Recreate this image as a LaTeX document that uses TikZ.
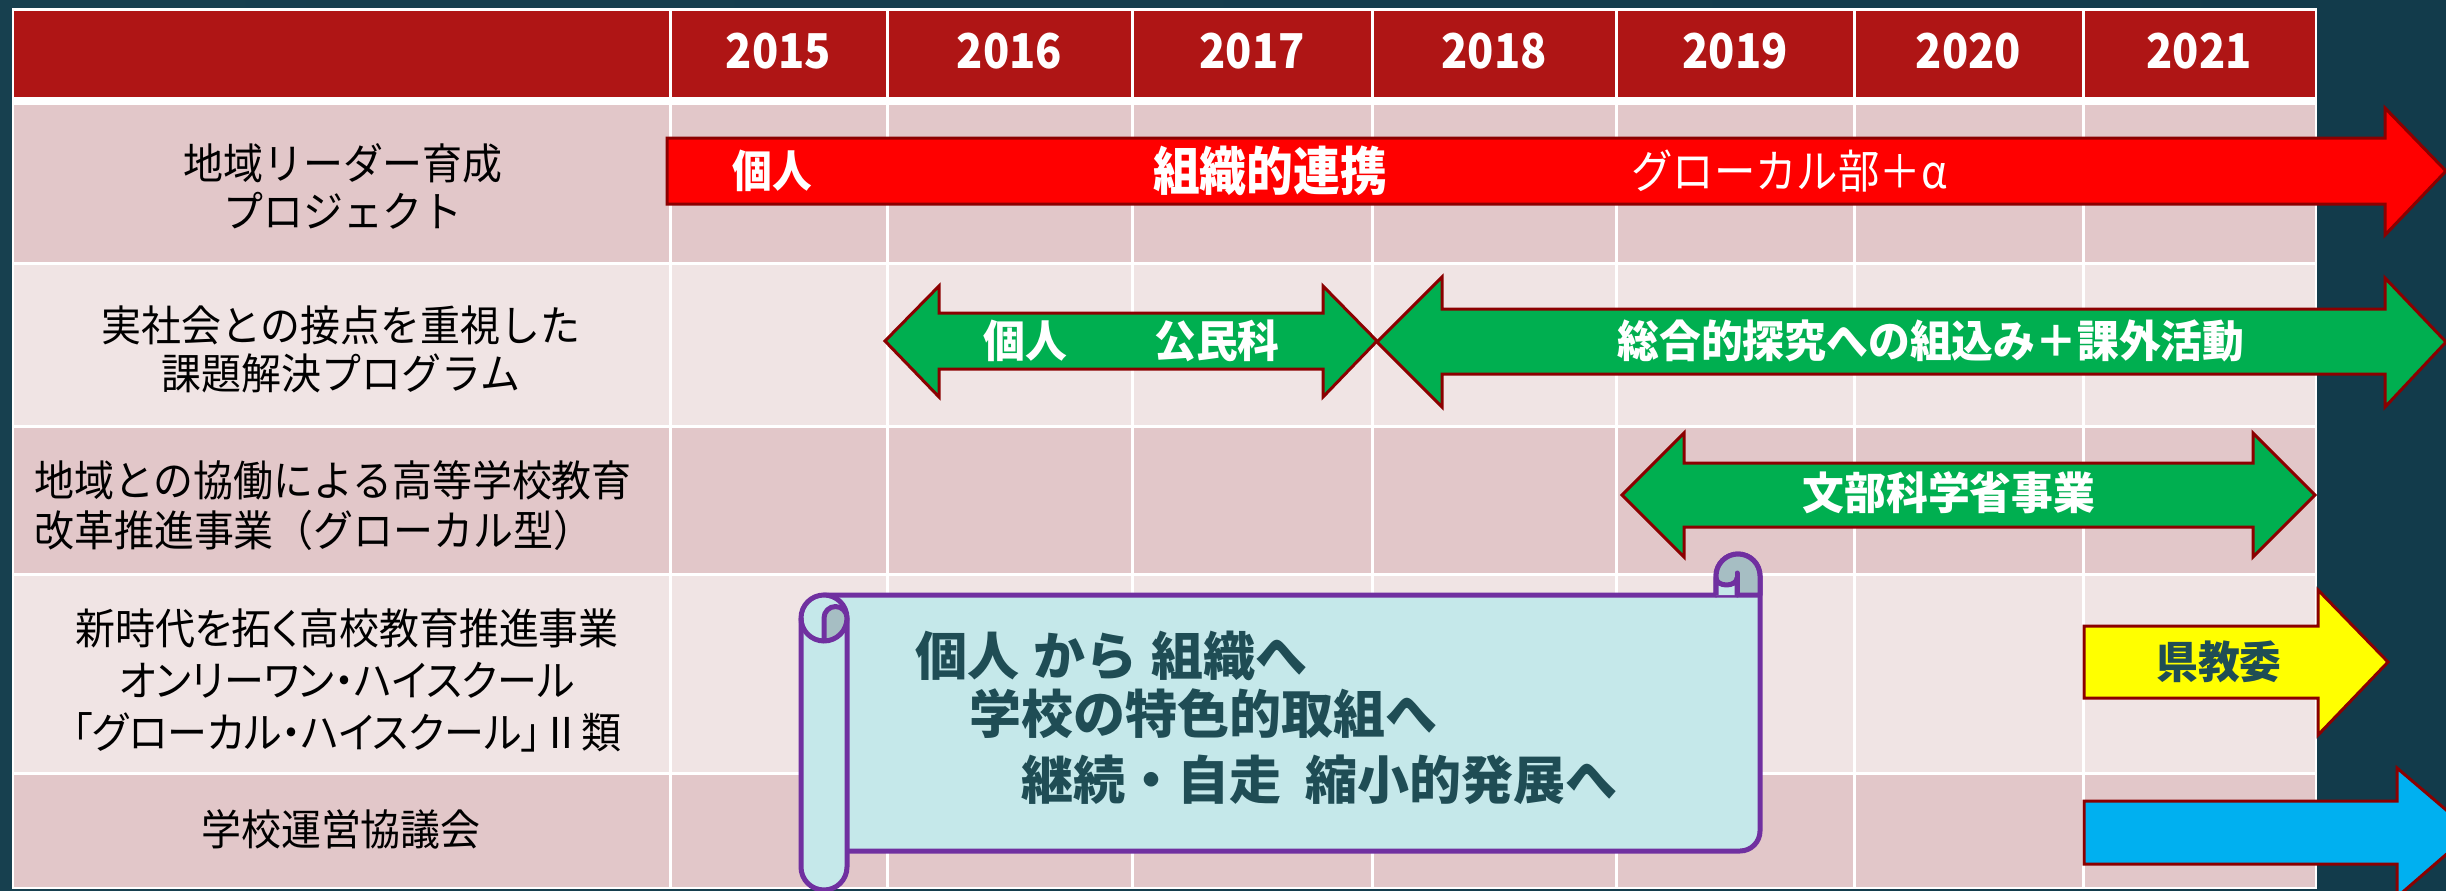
\documentclass[tikz,border=0pt]{standalone}
\usepackage{fontspec}
\setmainfont{Noto Sans CJK JP}
\newfontfamily\cjkA[FakeStretch=0.94]{Noto Sans CJK JP}
\newfontfamily\cjkP[FakeStretch=0.94,RawFeature=+palt]{Noto Sans CJK JP}
\newfontfamily\cjkB[FakeStretch=0.9]{Noto Sans CJK JP}
\newfontfamily\cjkC[FakeStretch=0.95]{Noto Sans CJK JP}
\definecolor{bgL}{HTML}{17404F}
\definecolor{bgM}{HTML}{2C6262}
\definecolor{bgR}{HTML}{123B4B}
\definecolor{hdr}{HTML}{AF1515}
\definecolor{rowa}{HTML}{E2C7C9}
\definecolor{rowb}{HTML}{F0E4E4}
\definecolor{arrowedge}{HTML}{8B0000}
\definecolor{redA}{HTML}{FF0000}
\definecolor{greenA}{HTML}{00AF50}
\definecolor{yellowA}{HTML}{FFFF00}
\definecolor{blueA}{HTML}{00B0F0}
\definecolor{scrollfill}{HTML}{C5E8EA}
\definecolor{scrollgrey}{HTML}{A6BEC3}
\definecolor{purp}{HTML}{7030A0}
\definecolor{tealtext}{HTML}{1F4D55}
\tikzset{
  blockarrow/.style={draw=arrowedge, line width=3pt, line join=miter},
  scrollpart/.style={draw=purp, line width=5pt, line join=round},
  gridline/.style={draw=white, line width=3pt},
  rowlabel/.style={text=black, font=\cjkA\fontsize{42.5pt}{48pt}\selectfont, align=center, inner sep=0pt},
  yearlabel/.style={text=white, font=\cjkB\bfseries\fontsize{48pt}{48pt}\selectfont, inner sep=0pt},
  arrowtext/.style={text=white, font=\cjkC\bfseries\fontsize{44pt}{44pt}\selectfont, inner sep=0pt},
  scrolltext/.style={text=tealtext, font=\bfseries\fontsize{52pt}{52pt}\selectfont, inner sep=0pt, anchor=west},
}
\begin{document}
\begin{tikzpicture}[x=1pt,y=-1pt]
\useasboundingbox (0,0) rectangle (2446,891);
\clip (0,0) rectangle (2446,891);
% background
\shade[left color=bgL, middle color=bgM, right color=bgR] (0,0) rectangle (2446,891);
% table
\fill[white] (12,8) rectangle (2317,889);
\fill[hdr] (14,11) rectangle (2315,97);
\fill[rowa] (14,105) rectangle (2315,262);
\fill[rowb] (14,265) rectangle (2315,425);
\fill[rowa] (14,428) rectangle (2315,573);
\fill[rowb] (14,576) rectangle (2315,772);
\fill[rowa] (14,775) rectangle (2315,887);
\foreach \x in {670,887,1132,1372,1616,1854,2083}
  \draw[gridline] (\x,9) -- (\x,888);
% years
\node[yearlabel] (y2015) at (778.5,51) {2015};
\node[yearlabel] (y2016) at (1009.5,51) {2016};
\node[yearlabel] (y2017) at (1252,51) {2017};
\node[yearlabel] (y2018) at (1494,51) {2018};
\node[yearlabel] (y2019) at (1735,51) {2019};
\node[yearlabel] (y2020) at (1968.5,51) {2020};
\node[yearlabel] (y2021) at (2199,51) {2021};
% row labels
\node[rowlabel] (l1) at (343,186) {地域リーダー育成\\プロジェクト};
\node[rowlabel] (l2) at (341,349) {実社会との接点を重視した\\課題解決プログラム};
\node[rowlabel, align=left, anchor=west, font=\cjkA\fontsize{42.5pt}{50pt}\selectfont] (l3) at (34,506) {地域との協働による高等学校教育\\改革推進事業（グローカル型）};
\node[rowlabel, font=\cjkP\fontsize{42.5pt}{52pt}\selectfont] (l4) at (347,680) {新時代を拓く高校教育推進事業\\オンリーワン・ハイスクール\\「グローカル・ハイスクール」Ⅱ類};
\node[rowlabel] (l5) at (341,829) {学校運営協議会};
% red arrow
\draw[blockarrow, fill=redA] (667,138) -- (2385,138) -- (2385,108) -- (2446,171) -- (2385,235) -- (2385,204) -- (667,204) -- cycle;
\node[arrowtext, font=\cjkB\bfseries\fontsize{44pt}{44pt}\selectfont] (r1) at (772,171) {個人};
\node[arrowtext, font=\cjkB\bfseries\fontsize{52pt}{52pt}\selectfont] (r2) at (1270,171) {組織的連携};
\node[arrowtext, anchor=west, font=\cjkB\fontsize{46pt}{46pt}\selectfont] (r3) at (1631,171) {グローカル部＋α};
% green arrows
\draw[blockarrow, fill=greenA] (885,341) -- (939,286) -- (939,313) -- (1323,313) -- (1323,286) -- (1377,341) -- (1323,397) -- (1323,369) -- (939,369) -- (939,397) -- cycle;
\node[arrowtext] (g1a) at (1025,341) {個人};
\node[arrowtext] (g1b) at (1217,341) {公民科};
\draw[blockarrow, fill=greenA] (1377,342) -- (1442,277) -- (1442,309) -- (2385,309) -- (2385,278) -- (2446,342) -- (2385,407) -- (2385,374) -- (1442,374) -- (1442,407) -- cycle;
\node[arrowtext] (g2) at (1931,341) {総合的探究への組込み＋課外活動};
\draw[blockarrow, fill=greenA] (1622,495) -- (1684,433) -- (1684,463) -- (2253,463) -- (2253,433) -- (2315,495) -- (2253,557) -- (2253,527) -- (1684,527) -- (1684,557) -- cycle;
\node[arrowtext] (g3) at (1949,493) {文部科学省事業};
% yellow arrow
\draw[blockarrow, fill=yellowA] (2084,626) -- (2318,626) -- (2318,590) -- (2388,662) -- (2318,735) -- (2318,698) -- (2084,698) -- cycle;
\node[arrowtext, text=tealtext] (k1) at (2219,662) {県教委};
% blue arrow
\draw[blockarrow, fill=blueA] (2084,801) -- (2397,801) -- (2397,768) -- (2472,832) -- (2397,897) -- (2397,864) -- (2084,864) -- cycle;
% scroll body
\draw[scrollpart, fill=scrollfill] (824,851) -- (1740,851) arc[start angle=90, end angle=0, radius=20] -- (1760,576) arc[start angle=0, end angle=-180, radius=22] -- (1716,595) -- (824,595) -- cycle;
\draw[scrollpart, fill=scrollgrey] (1716,595) -- (1716,576) arc[start angle=180, end angle=360, radius=22] -- (1760,595) -- cycle;
\draw[scrollpart, fill=scrollfill] (1716,595) -- (1716,578) arc[start angle=180, end angle=0, x radius=10.5, y radius=7] -- (1737,595);
\draw[scrollpart, line cap=round] (1737,595) -- (1737,573);
% left roll
\draw[scrollpart, fill=scrollfill] (801,867) -- (801,618) arc[start angle=180, end angle=360, radius=23] -- (847,867) arc[start angle=0, end angle=180, radius=23] -- cycle;
\draw[scrollpart] (801,618) arc[start angle=180, end angle=90, radius=23];
\draw[scrollpart, fill=scrollgrey] (824,641) -- (824,618) arc[start angle=180, end angle=360, radius=11.5] arc[start angle=0, end angle=90, radius=23] -- cycle;
% scroll text
\node[scrolltext] (s1) at (915,656) {個人\hspace{14pt}から\hspace{14pt}組織へ};
\node[scrolltext] (s2) at (969,714) {学校の特色的取組へ};
\node[scrolltext] (s3) at (1021,780) {継続・自走\hspace{24pt}縮小的発展へ};
\end{tikzpicture}
\end{document}
